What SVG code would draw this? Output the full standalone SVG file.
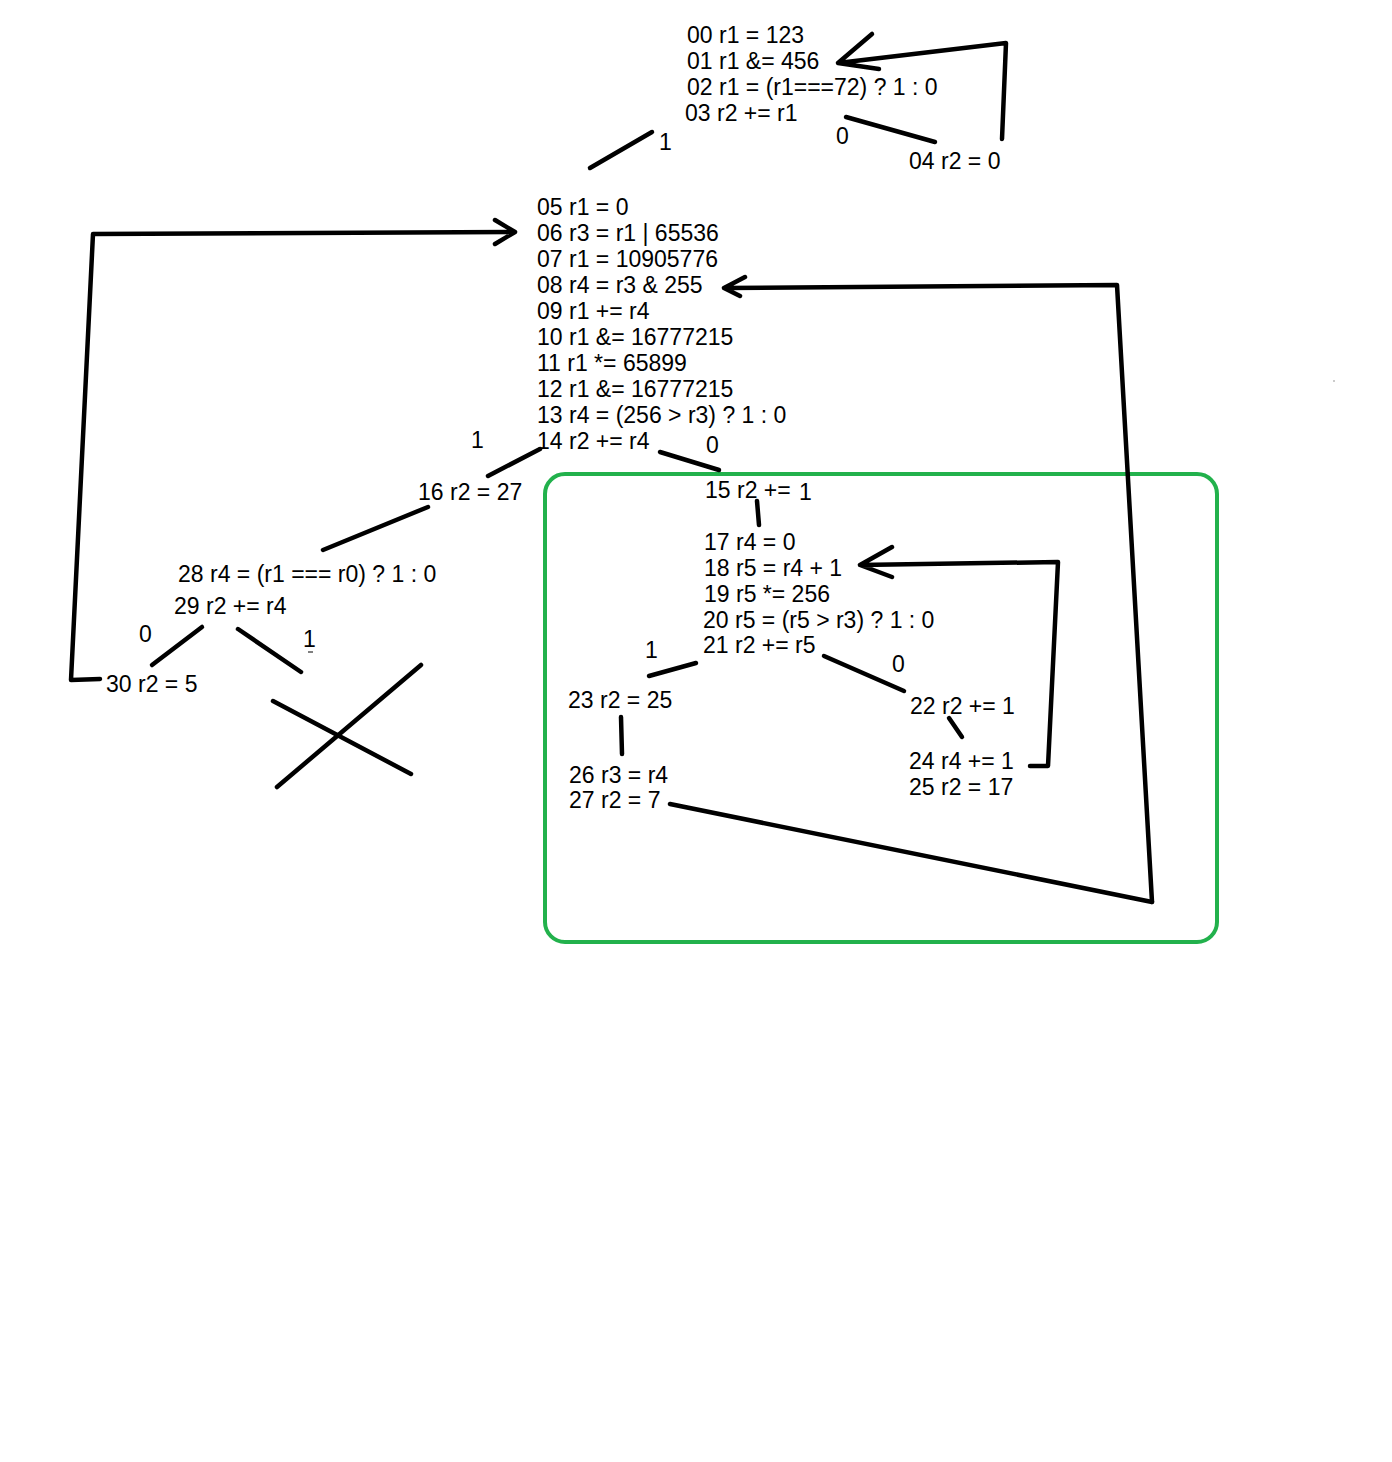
<svg xmlns="http://www.w3.org/2000/svg" width="1392" height="1462" viewBox="0 0 1392 1462">
<style>
text{font-family:"Liberation Sans",Arial,sans-serif;font-size:23px;fill:#000}
.c{fill:none;stroke:#000;stroke-width:4.5;stroke-linecap:round;stroke-linejoin:round}
.g{fill:none;stroke:#22b14c;stroke-width:4}
</style>
<rect width="1392" height="1462" fill="#fff"/>
<rect class="g" x="545" y="474" width="672" height="468" rx="20"/>
<g id="connectors">
<path class="c" d="M590,168 L652,132"/>
<path class="c" d="M846,117 L935,142"/>
<path class="c" d="M1002,139 L1006,43 L838,63 M872,34 L838,63 L879,69"/>
<path class="c" d="M100,679 L71,680 L93,234 L515,232 M495,220 L515,232 L495,244"/>
<path class="c" d="M1152,902 L1117,285 L724,288 M745,277 L724,288 L740,296"/>
<path class="c" d="M488,476 L540,449"/>
<path class="c" d="M660,452 L719,470"/>
<path class="c" d="M323,550 L428,507"/>
<path class="c" d="M152,665 L202,627"/>
<path class="c" d="M238,629 L301,672"/>
<path class="c" d="M273,701 L411,774"/>
<path class="c" d="M277,787 L421,665"/>
<path class="c" d="M757,501 L759,525"/>
<path class="c" d="M1030,766 L1048,766 L1058,562 L860,565 M892,547 L860,565 L892,577"/>
<path class="c" d="M649,676 L696,663"/>
<path class="c" d="M824,656 L904,691"/>
<path class="c" d="M621,717 L622,754"/>
<path class="c" d="M949,718 L962,737"/>
<path class="c" d="M670,804 L1152,902"/>
<path d="M308,652 L313,652" stroke="#000" stroke-width="1"/>
<circle cx="1334" cy="381" r="0.8" fill="#888"/>
</g>
<g id="n00">
<text x="687" y="43">00 r1 = 123</text>
<text x="687" y="69">01 r1 &amp;= 456</text>
<text x="687" y="95">02 r1 = (r1===72) ? 1 : 0</text>
<text x="685" y="121">03 r2 += r1</text>
</g>
<g id="labels-top"><text x="659" y="150">1</text><text x="836" y="144">0</text></g>
<g id="n04"><text x="909" y="169">04 r2 = 0</text></g>
<g id="n05">
<text x="537" y="215">05 r1 = 0</text>
<text x="537" y="241">06 r3 = r1 | 65536</text>
<text x="537" y="267">07 r1 = 10905776</text>
<text x="537" y="293">08 r4 = r3 &amp; 255</text>
<text x="537" y="319">09 r1 += r4</text>
<text x="537" y="345">10 r1 &amp;= 16777215</text>
<text x="537" y="371">11 r1 *= 65899</text>
<text x="537" y="397">12 r1 &amp;= 16777215</text>
<text x="537" y="423">13 r4 = (256 &gt; r3) ? 1 : 0</text>
<text x="537" y="449">14 r2 += r4</text>
</g>
<g id="labels-mid"><text x="471" y="448">1</text><text x="706" y="453">0</text></g>
<g id="n16"><text x="418" y="500">16 r2 = 27</text></g>
<g id="n28">
<text x="178" y="582">28 r4 = (r1 === r0) ? 1 : 0</text>
<text x="174" y="614">29 r2 += r4</text>
</g>
<g id="labels-left"><text x="139" y="642">0</text><text x="303" y="647">1</text></g>
<g id="n30"><text x="106" y="692">30 r2 = 5</text></g>
<g id="n15"><text x="705" y="498">15 r2 +=</text><text x="799" y="500">1</text></g>
<g id="n17">
<text x="704" y="550">17 r4 = 0</text>
<text x="704" y="576">18 r5 = r4 + 1</text>
<text x="704" y="602">19 r5 *= 256</text>
<text x="703" y="628">20 r5 = (r5 &gt; r3) ? 1 : 0</text>
<text x="703" y="653">21 r2 += r5</text>
</g>
<g id="labels-box"><text x="645" y="658">1</text><text x="892" y="672">0</text></g>
<g id="n23"><text x="568" y="708">23 r2 = 25</text></g>
<g id="n26">
<text x="569" y="783">26 r3 = r4</text>
<text x="569" y="808">27 r2 = 7</text>
</g>
<g id="n22"><text x="910" y="714">22 r2 += 1</text></g>
<g id="n24">
<text x="909" y="769">24 r4 += 1</text>
<text x="909" y="795">25 r2 = 17</text>
</g>
</svg>
